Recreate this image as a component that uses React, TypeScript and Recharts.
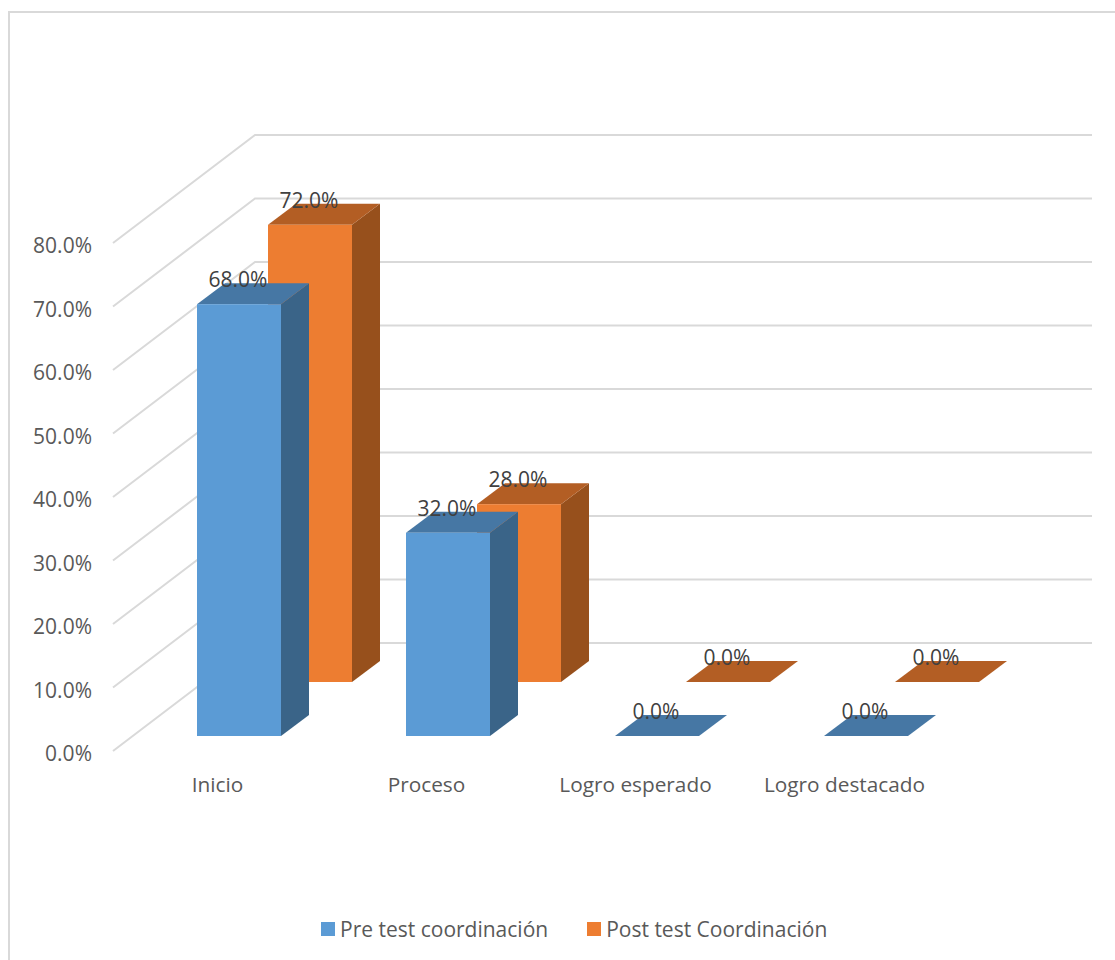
import React from "react";
import { ComposedChart, Bar, XAxis, YAxis, CartesianGrid, Legend, LabelList } from "recharts";

const categories = ["Inicio", "Proceso", "Logro esperado", "Logro destacado"];
const preValues = [68, 32, 0, 0];
const postValues = [72, 28, 0, 0];
const yTicks = [0, 10, 20, 30, 40, 50, 60, 70, 80];
const PRE_NAME = "Pre test coordinación";
const POST_NAME = "Post test Coordinación";
const legendOrder = [PRE_NAME, POST_NAME];

const data = categories.map((c, i) => ({ category: c, pre: preValues[i], post: postValues[i] }));

const FONT = "'Open Sans', sans-serif";
const FONT_SIZE = 21;
const WALL_X = 142;
const WALL_Y = 108;
const BACK_RIGHT = 1092;
const DEPTH_X = 28;
const DEPTH_Y = 21;
const BAR_W = 84;

const preStyle = { front: "#5b9bd5", top: "#4677a4", side: "#3a6488", dx: 21, dy: -15 };
const postStyle = { front: "#ed7d31", top: "#b35e24", side: "#97501c", dx: 92, dy: -69 };

function makeBarShape(s: typeof preStyle) {
  return function BarShape(props: any) {
    const x = props.x + s.dx;
    const y = props.y + s.dy;
    const w = props.width;
    const h = props.height;
    return (
      <g>
        {h > 0 && (
          <polygon
            points={`${x + w},${y} ${x + w + DEPTH_X},${y - DEPTH_Y} ${x + w + DEPTH_X},${y + h - DEPTH_Y} ${x + w},${y + h}`}
            fill={s.side}
          />
        )}
        <polygon
          points={`${x},${y} ${x + DEPTH_X},${y - DEPTH_Y} ${x + w + DEPTH_X},${y - DEPTH_Y} ${x + w},${y}`}
          fill={s.top}
        />
        {h > 0 && <rect x={x} y={y} width={w} height={h} fill={s.front} />}
      </g>
    );
  };
}

function makeLabel(s: typeof preStyle) {
  return function BarLabel(props: any) {
    const x = props.x + s.dx;
    const y = props.y + s.dy;
    return (
      <text
        x={x + 41}
        y={y - 25}
        textAnchor="middle"
        dominantBaseline="central"
        fill="#404040"
        fontSize={FONT_SIZE}
        fontFamily={FONT}
      >
        {Number(props.value).toFixed(1)}%
      </text>
    );
  };
}

function GridLine(props: any) {
  const { x1, y1 } = props;
  const bx = x1 + WALL_X;
  const by = y1 - WALL_Y;
  return (
    <polyline
      key={props.key ?? y1}
      points={`${x1},${y1} ${bx},${by} ${BACK_RIGHT},${by}`}
      fill="none"
      stroke="#d9d9d9"
      strokeWidth={2}
    />
  );
}

function LegendContent(props: any) {
  const items = [...(props.payload ?? [])].sort(
    (a: any, b: any) => legendOrder.indexOf(a.value) - legendOrder.indexOf(b.value)
  );
  return (
    <div style={{ display: "flex", alignItems: "center", gap: 39, whiteSpace: "nowrap" }}>
      {items.map((it: any) => (
        <div key={it.value} style={{ display: "flex", alignItems: "center", gap: 5 }}>
          <span style={{ width: 14, height: 14, background: it.color, display: "inline-block" }} />
          <span style={{ color: "#595959", fontSize: FONT_SIZE, fontFamily: FONT }}>{it.value}</span>
        </div>
      ))}
    </div>
  );
}

export default function App() {
  return (
    <div style={{ position: "absolute", left: 0, top: 0, width: 1115, height: 960, overflow: "hidden", background: "#fff" }}>
      <div
        style={{
          position: "absolute",
          left: 8,
          top: 11,
          width: 1200,
          height: 1000,
          borderLeft: "2px solid #d9d9d9",
          borderTop: "2px solid #d9d9d9",
        }}
      />
      <div style={{ position: "absolute", left: 0, top: 0 }}>
        <ComposedChart
          width={1115}
          height={960}
          data={data}
          margin={{ top: 243, right: 166, bottom: 121, left: 0 }}
          barSize={BAR_W}
          barGap={-BAR_W}
        >
          <CartesianGrid vertical={false} horizontal={GridLine} />
          <XAxis
            dataKey="category"
            height={60}
            axisLine={false}
            tickLine={false}
            tickMargin={20}
            interval={0}
            tick={{ fill: "#595959", fontSize: 20.8, fontFamily: FONT }}
          />
          <YAxis
            width={113}
            domain={[0, 80]}
            ticks={yTicks}
            axisLine={false}
            tickLine={false}
            tickSize={0}
            tickMargin={21}
            tickFormatter={(v: number) => `${v.toFixed(1)}%`}
            tick={{ fill: "#595959", fontSize: FONT_SIZE, fontFamily: FONT, dy: 3 }}
          />
          <Legend
            content={<LegendContent />}
            wrapperStyle={{ position: "absolute", left: 321, top: 915, width: "auto" }}
          />
          <Bar dataKey="post" name={POST_NAME} fill={postStyle.front} shape={makeBarShape(postStyle)} isAnimationActive={false}>
            <LabelList dataKey="post" content={makeLabel(postStyle)} />
          </Bar>
          <Bar dataKey="pre" name={PRE_NAME} fill={preStyle.front} shape={makeBarShape(preStyle)} isAnimationActive={false}>
            <LabelList dataKey="pre" content={makeLabel(preStyle)} />
          </Bar>
        </ComposedChart>
      </div>
    </div>
  );
}
